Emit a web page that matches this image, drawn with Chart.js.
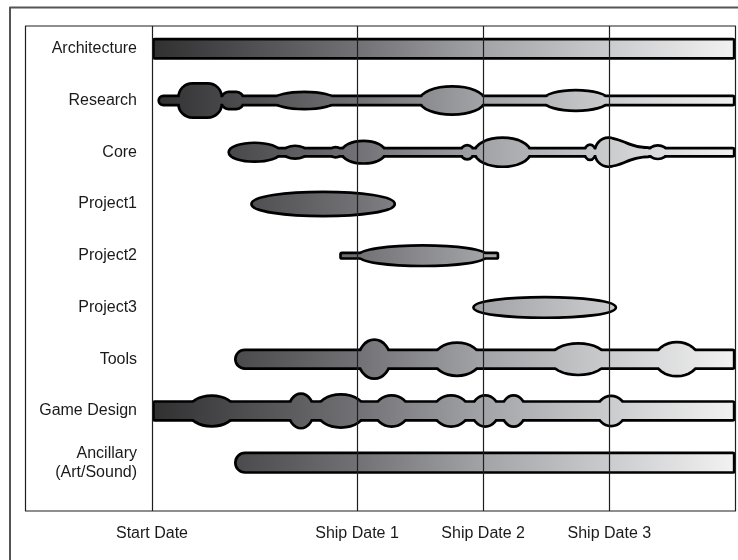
<!DOCTYPE html>
<html><head><meta charset="utf-8">
<script src="https://cdn.jsdelivr.net/npm/chart.js@4"></script>
<style>html,body{margin:0;padding:0;background:#fff}canvas{display:block}</style>
</head><body>
<canvas id="c" width="738" height="560"></canvas>
<script>
// ---- data ----
const rowLabels = ['Architecture','Research','Core','Project1','Project2','Project3','Tools','Game Design',['Ancillary','(Art/Sound)']];
const xTickValues = [0, 13, 21, 29];
const xTickLabels = ['Start Date', 'Ship Date 1', 'Ship Date 2', 'Ship Date 3'];
const xMax = 37;

// [start, end, thickness]
const architectureBars = [[0, 37, 0.425]];
const researchBars = [[0.34, 37, 0.232]];
const researchBulges = [[1.59, 4.51, 0.715], [4.31, 5.89, 0.386], [7.6, 11.72, 0.386], [16.88, 21.19, 0.6], [24.73, 29.02, 0.452]];
const coreBars = [[6.47, 37, 0.213]];
const coreBulges = [[4.78, 8.23, 0.419], [8.23, 9.92, 0.303], [11.17, 12.12, 0.251], [11.93, 14.89, 0.489], [19.48, 20.49, 0.329], [20.37, 24.09, 0.613], [27.33, 28.22, 0.348], [27.98, 29.89, 0.613], [31.39, 32.76, 0.315]];
// [start, end, thicknessStart, thicknessEnd]
const coreTapers = [[28.93, 31.47, 0.6, 0.232]];
const project1Bulges = [[6.22, 15.48, 0.522]];
const project2Bars = [[11.87, 22.02, 0.16]];
const project2Bulges = [[13.01, 21.32, 0.45]];
const project3Bulges = [[20.3, 29.5, 0.45]];
const toolsBars = [[5.2, 37, 0.412]];
const toolsBulges = [[12.99, 15.21, 0.806], [17.75, 20.93, 0.696], [25.13, 28.93, 0.663], [31.79, 34.77, 0.709]];
const gameDesignBars = [[0, 37, 0.419]];
const gameDesignBulges = [[2.2, 5.37, 0.644], [8.55, 10.34, 0.721], [10.34, 13.62, 0.696], [14.02, 16.37, 0.657], [17.75, 20.18, 0.657], [20.18, 22.08, 0.657], [22.08, 23.78, 0.657], [28.11, 30.12, 0.638]];
const ancillaryBars = [[5.2, 37, 0.431]];

const rowsData = [
  {bars: architectureBars, bulges: [], tapers: []},
  {bars: researchBars, bulges: researchBulges, tapers: []},
  {bars: coreBars, bulges: coreBulges, tapers: coreTapers},
  {bars: [], bulges: project1Bulges, tapers: []},
  {bars: project2Bars, bulges: project2Bulges, tapers: []},
  {bars: [], bulges: project3Bulges, tapers: []},
  {bars: toolsBars, bulges: toolsBulges, tapers: []},
  {bars: gameDesignBars, bulges: gameDesignBulges, tapers: []},
  {bars: ancillaryBars, bulges: [], tapers: []}
];

// ---- styles ----
const roundLeftRows = [1, 6, 8];
const roundedBulges = {1: [0, 1]};
const B = 2.7; // visible outline width

function buildShapes(xs, ys, r) {
  const d = rowsData[r];
  const yc = ys.getPixelForValue(r);
  const half = t => Math.abs(ys.getPixelForValue(r + t / 2) - ys.getPixelForValue(r - t / 2)) / 2 - B;
  const shapes = [];
  d.bars.forEach(([s, e, t]) => {
    const x0 = xs.getPixelForValue(s) + B, x1 = xs.getPixelForValue(e) - B, h = half(t);
    const rl = roundLeftRows.includes(r) ? h : 0;
    shapes.push(ctx => { ctx.beginPath(); ctx.roundRect(x0, yc - h, x1 - x0, 2 * h, [rl, 0, 0, rl]); });
  });
  d.bulges.forEach(([s, e, t], i) => {
    const x0 = xs.getPixelForValue(s) + B, x1 = xs.getPixelForValue(e) - B, h = half(t);
    if (roundedBulges[r] && roundedBulges[r].includes(i)) {
      const rad = Math.min(h, (x1 - x0) / 2) * 0.8;
      shapes.push(ctx => { ctx.beginPath(); ctx.roundRect(x0, yc - h, x1 - x0, 2 * h, rad); });
    } else {
      shapes.push(ctx => { ctx.beginPath(); ctx.ellipse((x0 + x1) / 2, yc, (x1 - x0) / 2, h, 0, 0, Math.PI * 2); });
    }
  });
  d.tapers.forEach(([s, e, t0, t1]) => {
    const x0 = xs.getPixelForValue(s), x1 = xs.getPixelForValue(e), h0 = half(t0), h1 = half(t1);
    const dx = x1 - x0;
    shapes.push(ctx => {
      ctx.beginPath();
      ctx.moveTo(x0, yc - h0);
      ctx.bezierCurveTo(x0 + 0.35 * dx, yc - h0, x0 + 0.5 * dx, yc - h1, x1, yc - h1);
      ctx.lineTo(x1, yc + h1);
      ctx.bezierCurveTo(x0 + 0.5 * dx, yc + h1, x0 + 0.35 * dx, yc + h0, x0, yc + h0);
      ctx.closePath();
    });
  });
  return shapes;
}

const blobPlugin = {
  id: 'blobs',
  afterDatasetsDraw(chart) {
    const {ctx, chartArea: a, scales: {x, y}} = chart;
    ctx.save();
    const g = ctx.createLinearGradient(a.left, 0, a.right, 0);
    g.addColorStop(0, '#303031');
    g.addColorStop(0.35, '#717175');
    g.addColorStop(0.57, '#a3a4a7');
    g.addColorStop(0.78, '#cacbcd');
    g.addColorStop(1, '#f2f2f2');
    ctx.lineJoin = 'round';
    rowsData.forEach((_, r) => {
      const shapes = buildShapes(x, y, r);
      ctx.strokeStyle = '#000';
      ctx.lineWidth = 2 * B;
      shapes.forEach(f => { f(ctx); ctx.stroke(); });
      ctx.fillStyle = g;
      shapes.forEach(f => { f(ctx); ctx.fill(); });
    });
    // grid lines on top
    ctx.strokeStyle = '#1e1e1e';
    ctx.lineWidth = 1.2;
    xTickValues.forEach(v => {
      const px = Math.round(x.getPixelForValue(v)) + 0.5;
      ctx.beginPath(); ctx.moveTo(px, a.top); ctx.lineTo(px, a.bottom); ctx.stroke();
    });
    ctx.strokeRect(25.5, a.top, a.right - 25.5, a.bottom - a.top);
    // outer frame
    ctx.strokeStyle = '#555';
    ctx.lineWidth = 2;
    ctx.beginPath(); ctx.moveTo(10, 580); ctx.lineTo(10, 7.5); ctx.lineTo(760, 7.5); ctx.stroke();
    ctx.restore();
  }
};

Chart.defaults.font.family = '"Liberation Sans", Arial, sans-serif';
Chart.defaults.font.size = 16;
Chart.defaults.color = '#1a1a1a';

new Chart(document.getElementById('c'), {
  type: 'scatter',
  data: {datasets: []},
  options: {
    responsive: false,
    animation: false,
    devicePixelRatio: 1,
    layout: {padding: {top: 26, right: 2.5, left: 0, bottom: 0}},
    plugins: {legend: {display: false}, tooltip: {enabled: false}},
    scales: {
      x: {
        type: 'linear', position: 'bottom', min: 0, max: xMax,
        grid: {display: false, drawTicks: false}, border: {display: false},
        afterBuildTicks: s => { s.ticks = xTickValues.map(v => ({value: v})); },
        afterFit: s => { s.height = 49; s.paddingLeft = 0; s.paddingRight = 0; },
        ticks: {padding: 13, maxRotation: 0, autoSkip: false,
          callback: v => xTickLabels[xTickValues.indexOf(v)]}
      },
      y: {
        type: 'linear', reverse: true, min: -0.439, max: 8.933,
        grid: {display: false, drawTicks: false}, border: {display: false},
        afterBuildTicks: s => { s.ticks = rowLabels.map((_, i) => ({value: i})); },
        afterFit: s => { s.width = 152; s.paddingTop = 0; s.paddingBottom = 0; },
        ticks: {padding: 15, autoSkip: false, callback: v => rowLabels[v]}
      }
    }
  },
  plugins: [blobPlugin]
});
</script>
</body></html>
